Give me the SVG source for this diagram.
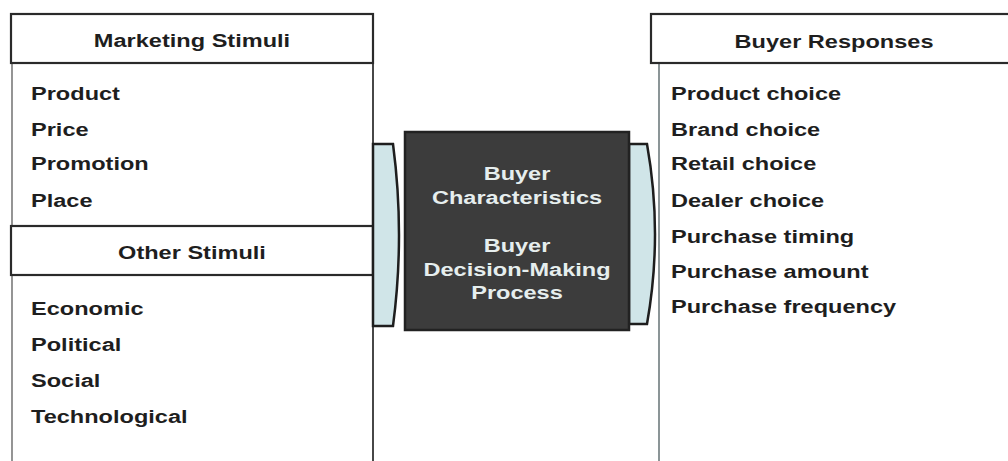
<svg xmlns="http://www.w3.org/2000/svg" width="1008" height="461" viewBox="0 0 1008 461">
<style>
.t{font-family:"Liberation Sans",Arial,sans-serif;font-weight:bold;font-size:19px;fill:#1e1e1e}
.c{text-anchor:middle}
.w{fill:#e6eeee}
.hdr{fill:#fff;stroke:#2a2a2a;stroke-width:2.2}
.br{fill:#d0e5e8;stroke:#1e1e1e;stroke-width:2.5}
</style>
<rect width="1008" height="461" fill="#fff"/>
<g id="marketing-stimuli">
<line x1="12" y1="63" x2="12" y2="461" stroke="#7a7a7a" stroke-width="1.6"/>
<line x1="373" y1="63" x2="373" y2="461" stroke="#333" stroke-width="1.8"/>
<rect class="hdr" x="11" y="14" width="362" height="49"/>
<text class="t c" transform="translate(192,47) scale(1.24,1)">Marketing Stimuli</text>
<text class="t" transform="translate(31,100) scale(1.24,1)">Product</text>
<text class="t" transform="translate(31,136) scale(1.24,1)">Price</text>
<text class="t" transform="translate(31,170) scale(1.24,1)">Promotion</text>
<text class="t" transform="translate(31,207) scale(1.24,1)">Place</text>
</g>
<g id="other-stimuli">
<rect class="hdr" x="11" y="226" width="362" height="49"/>
<text class="t c" transform="translate(192,259) scale(1.24,1)">Other Stimuli</text>
<text class="t" transform="translate(31,315) scale(1.24,1)">Economic</text>
<text class="t" transform="translate(31,351) scale(1.24,1)">Political</text>
<text class="t" transform="translate(31,387) scale(1.24,1)">Social</text>
<text class="t" transform="translate(31,423) scale(1.24,1)">Technological</text>
</g>
<g id="connectors">
<path class="br" d="M373,144 L393,144 Q405,235 393,326 L373,326 Z"/>
<path class="br" d="M629,144 L647,144 Q663,234 647,324 L629,324 Z"/>
</g>
<g id="buyer-black-box">
<rect x="405" y="132" width="224" height="198" fill="#3c3c3c" stroke="#222" stroke-width="2.5"/>
<text class="t c w" transform="translate(517,180) scale(1.24,1)">Buyer</text>
<text class="t c w" transform="translate(517,204) scale(1.24,1)">Characteristics</text>
<text class="t c w" transform="translate(517,252) scale(1.24,1)">Buyer</text>
<text class="t c w" transform="translate(517,276) scale(1.24,1)">Decision-Making</text>
<text class="t c w" transform="translate(517,299) scale(1.24,1)">Process</text>
</g>
<g id="buyer-responses">
<line x1="659" y1="63" x2="659" y2="461" stroke="#7f8a8c" stroke-width="1.8"/>
<rect class="hdr" x="651" y="14" width="370" height="49"/>
<text class="t c" transform="translate(834,48) scale(1.24,1)">Buyer Responses</text>
<text class="t" transform="translate(671,100) scale(1.24,1)">Product choice</text>
<text class="t" transform="translate(671,136) scale(1.24,1)">Brand choice</text>
<text class="t" transform="translate(671,170) scale(1.24,1)">Retail choice</text>
<text class="t" transform="translate(671,207) scale(1.24,1)">Dealer choice</text>
<text class="t" transform="translate(671,243) scale(1.24,1)">Purchase timing</text>
<text class="t" transform="translate(671,278) scale(1.24,1)">Purchase amount</text>
<text class="t" transform="translate(671,313) scale(1.24,1)">Purchase frequency</text>
</g>
</svg>
